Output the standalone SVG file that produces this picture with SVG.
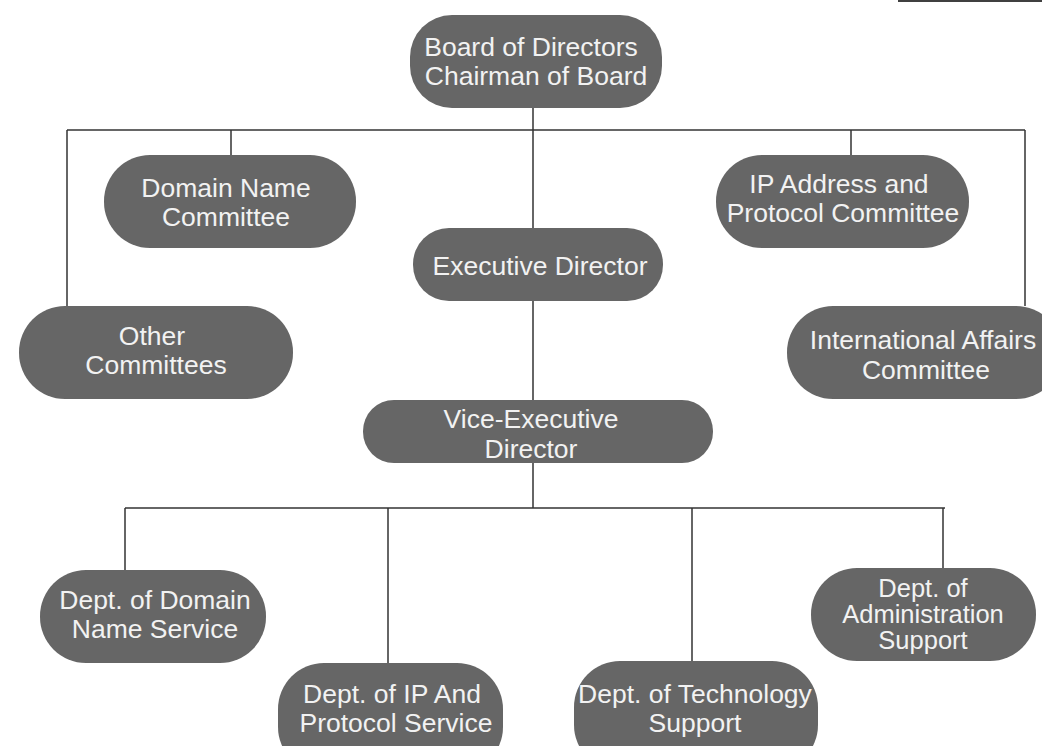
<svg xmlns="http://www.w3.org/2000/svg" width="1042" height="746" viewBox="0 0 1042 746">
<style>
.n rect{fill:#666666;}
.n text{fill:#f2f2f2;font-family:"Liberation Sans",Arial,sans-serif;font-size:26.5px;text-anchor:middle;}
.n text.s{font-size:25.5px;}
.c line{stroke:#333333;stroke-width:1.5;}
</style>
<rect width="1042" height="746" fill="#ffffff"/>
<line x1="898" y1="1" x2="1042" y2="1" stroke="#000" stroke-width="1.5"/>
<g class="c" id="connectors">
<line x1="533" y1="108" x2="533" y2="228"/>
<line x1="67" y1="130" x2="1025" y2="130"/>
<line x1="231" y1="130" x2="231" y2="155"/>
<line x1="851" y1="130" x2="851" y2="155"/>
<line x1="67" y1="130" x2="67" y2="306"/>
<line x1="1025" y1="130" x2="1025" y2="306"/>
<line x1="533" y1="301" x2="533" y2="400"/>
<line x1="533" y1="463" x2="533" y2="508"/>
<line x1="125" y1="508" x2="945" y2="508"/>
<line x1="125" y1="508" x2="125" y2="570"/>
<line x1="388" y1="508" x2="388" y2="663"/>
<line x1="692" y1="508" x2="692" y2="661"/>
<line x1="943" y1="508" x2="943" y2="568"/>
</g>
<g class="n" id="board"><rect x="410" y="15" width="252" height="93" rx="42"/><text x="531" y="56">Board of Directors</text><text x="536" y="85">Chairman of Board</text></g>
<g class="n" id="domain-committee"><rect x="104" y="155" width="252" height="93" rx="46"/><text x="226" y="197">Domain Name</text><text x="226" y="226">Committee</text></g>
<g class="n" id="ip-committee"><rect x="716" y="155" width="253" height="93" rx="46"/><text x="839" y="193">IP Address and</text><text x="843" y="222">Protocol Committee</text></g>
<g class="n" id="exec"><rect x="413" y="228" width="250" height="73" rx="36"/><text x="540" y="275">Executive Director</text></g>
<g class="n" id="other"><rect x="19" y="306" width="274" height="93" rx="46"/><text x="152" y="345">Other</text><text x="156" y="374">Committees</text></g>
<g class="n" id="intl"><rect x="787" y="306" width="275" height="93" rx="46"/><text x="923" y="349">International Affairs</text><text x="926" y="379">Committee</text></g>
<g class="n" id="vice"><rect x="363" y="400" width="350" height="63" rx="31"/><text x="531" y="428">Vice-Executive</text><text x="531" y="458">Director</text></g>
<g class="n" id="dept-dns"><rect x="40" y="570" width="226" height="93" rx="46"/><text x="155" y="609">Dept. of Domain</text><text x="155" y="638">Name Service</text></g>
<g class="n" id="dept-ip"><rect x="278" y="663" width="225" height="110" rx="46"/><text x="392" y="703">Dept. of IP And</text><text x="396" y="732">Protocol Service</text></g>
<g class="n" id="dept-tech"><rect x="574" y="661" width="244" height="110" rx="46"/><text x="695" y="703">Dept. of Technology</text><text x="695" y="732">Support</text></g>
<g class="n" id="dept-admin"><rect x="811" y="568" width="225" height="93" rx="46"/><text class="s" x="923" y="597">Dept. of</text><text class="s" x="923" y="623">Administration</text><text class="s" x="923" y="649">Support</text></g>
</svg>
